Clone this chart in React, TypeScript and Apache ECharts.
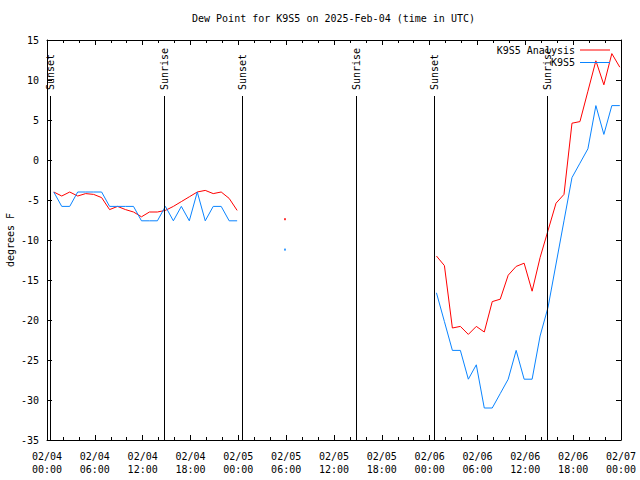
import React, { useEffect, useRef } from 'react';
import * as echarts from 'echarts';

const FONT = 'DejaVu Sans Mono';

const titleText = 'Dew Point for K9S5 on 2025-Feb-04 (time in UTC)';
const yAxisName = 'degrees F';
const analysisName = 'K9S5 Analysis';
const obsName = 'K9S5';

const xTickLabels = [
  '02/04\n00:00', '02/04\n06:00', '02/04\n12:00', '02/04\n18:00',
  '02/05\n00:00', '02/05\n06:00', '02/05\n12:00', '02/05\n18:00',
  '02/06\n00:00', '02/06\n06:00', '02/06\n12:00', '02/06\n18:00',
  '02/07\n00:00',
];

// hours since 02/04 00:00 UTC
const seg1Hours = [
  0.85, 1.85, 2.85, 3.85, 4.85, 5.85, 6.85, 7.85, 8.85, 9.85, 10.85, 11.85,
  12.85, 13.85, 14.85, 15.85, 16.85, 17.85, 18.85, 19.85, 20.85, 21.85, 22.85, 23.85,
];
const seg1Analysis = [
  -4.0, -4.5, -4.0, -4.5, -4.2, -4.3, -4.7, -6.2, -5.8, -6.2, -6.5, -7.1,
  -6.5, -6.5, -6.3, -5.8, -5.2, -4.6, -4.0, -3.8, -4.2, -4.0, -4.8, -6.3,
];
const seg1Obs = [
  -4.0, -5.8, -5.8, -4.0, -4.0, -4.0, -4.0, -5.8, -5.8, -5.8, -5.8, -7.6,
  -7.6, -7.6, -5.8, -7.6, -5.8, -7.6, -4.0, -7.6, -5.8, -5.8, -7.6, -7.6,
];

const isoHours = [29.85];
const isoAnalysis = [-7.4];
const isoObs = [-11.2];

const seg2Hours = [
  48.85, 49.85, 50.85, 51.85, 52.85, 53.85, 54.85, 55.85, 56.85, 57.85, 58.85, 59.85,
  60.85, 61.85, 62.85, 63.85, 64.85, 65.85, 66.85, 67.85, 68.85, 69.85, 70.85, 71.85,
];
const seg2Analysis = [
  -12.0, -13.2, -21.0, -20.8, -21.8, -20.8, -21.5, -17.7, -17.4, -14.4, -13.3, -12.9,
  -16.4, -12.2, -8.8, -5.4, -4.3, 4.6, 4.8, 8.6, 12.4, 9.4, 13.3, 11.6,
];
const seg2Obs = [
  -16.6, -20.2, -23.8, -23.8, -27.4, -25.6, -31.0, -31.0, -29.2, -27.4, -23.8, -27.4,
  -27.4, -22.0, -18.4, -13.0, -7.6, -2.2, -0.4, 1.4, 6.8, 3.2, 6.8, 6.8,
];

const sunEventNames = ['Sunset', 'Sunrise', 'Sunset', 'Sunrise', 'Sunset', 'Sunrise'];
const sunEventHours = [0.45, 14.72, 24.47, 38.85, 48.58, 62.76];

const RED = '#ff0000';
const BLUE = '#0a84ff';

const zip = (xs: number[], ys: number[]) => xs.map((x, i) => [x, ys[i]]);

export default function App() {
  const ref = useRef<HTMLDivElement>(null);

  useEffect(() => {
    if (!ref.current) return;
    const chart = echarts.init(ref.current, undefined, { renderer: 'svg' });

    const yMin = -35;
    const yMax = 15;
    const lineTopValue = 8;

    const xCommon = {
      type: 'value' as const,
      min: 0,
      max: 72,
      interval: 6,
      axisLine: { show: true, onZero: false, lineStyle: { color: '#000', width: 1 } },
      axisTick: { show: true, inside: true, length: 5, lineStyle: { color: '#000' } },
      minorTick: { show: true, splitNumber: 3, length: 3, lineStyle: { color: '#000' } },
      splitLine: { show: false },
      minorSplitLine: { show: false },
    };
    const yCommon = {
      type: 'value' as const,
      min: yMin,
      max: yMax,
      interval: 5,
      axisLine: { show: true, onZero: false, lineStyle: { color: '#000', width: 1 } },
      axisTick: { show: true, inside: true, length: 5, lineStyle: { color: '#000' } },
      splitLine: { show: false },
    };

    const lineSeries = (name: string, color: string, data: number[][], extra: any = {}) => ({
      type: 'line',
      name,
      data,
      xAxisIndex: 0,
      yAxisIndex: 0,
      showSymbol: false,
      symbol: 'none',
      lineStyle: { color, width: 1 },
      itemStyle: { color },
      emphasis: { disabled: true },
      silent: true,
      ...extra,
    });
    const dotSeries = (name: string, color: string, data: number[][]) => ({
      type: 'scatter',
      name,
      data,
      xAxisIndex: 0,
      yAxisIndex: 0,
      symbol: 'rect',
      symbolSize: 2,
      itemStyle: { color },
      emphasis: { disabled: true },
      silent: true,
    });

    chart.setOption({
      animation: false,
      textStyle: { fontFamily: FONT, color: '#000' },
      title: {
        text: titleText,
        left: 187,
        top: 8,
        textStyle: { fontFamily: FONT, fontSize: 10, fontWeight: 'normal', color: '#000' },
      },
      legend: {
        orient: 'vertical',
        right: 25,
        top: 40,
        align: 'right',
        icon: 'rect',
        itemWidth: 30,
        itemHeight: 1,
        itemGap: 2.5,
        itemTextGap: 5,
        selectedMode: false,
        textStyle: { fontFamily: FONT, fontSize: 10, color: '#000' },
        data: [
          { name: analysisName, itemStyle: { color: RED } },
          { name: obsName, itemStyle: { color: BLUE } },
        ],
      },
      grid: { left: 47, right: 19, top: 40, bottom: 40, containLabel: false, outerBoundsMode: 'none' },
      xAxis: [
        {
          ...xCommon,
          position: 'bottom',
          axisLabel: {
            show: true,
            margin: 10,
            fontFamily: FONT,
            fontSize: 10,
            color: '#000',
            lineHeight: 13,
            formatter: (v: number) => xTickLabels[Math.round(v / 6)] ?? '',
          },
        },
        { ...xCommon, position: 'top', axisLabel: { show: false } },
      ],
      yAxis: [
        {
          ...yCommon,
          position: 'left',
          name: yAxisName,
          nameLocation: 'middle',
          nameGap: 32,
          nameMoveOverlap: false,
          nameRotate: 90,
          nameTextStyle: { fontFamily: FONT, fontSize: 10, color: '#000' },
          axisLabel: { show: true, margin: 8, fontFamily: FONT, fontSize: 10, color: '#000' },
        },
        { ...yCommon, position: 'right', axisLabel: { show: false } },
      ],
      series: [
        lineSeries(analysisName, RED, zip(seg1Hours, seg1Analysis), {
          markLine: {
            silent: true,
            symbol: ['none', 'none'],
            label: { show: false },
            lineStyle: { color: '#000', width: 1, type: 'solid' },
            emphasis: { disabled: true },
            data: sunEventHours.map((h) => [
              { coord: [h, yMin] },
              { coord: [h, lineTopValue] },
            ]),
          },
        }),
        lineSeries(analysisName, RED, zip(seg2Hours, seg2Analysis)),
        dotSeries(analysisName, RED, zip(isoHours, isoAnalysis)),
        lineSeries(obsName, BLUE, zip(seg1Hours, seg1Obs)),
        lineSeries(obsName, BLUE, zip(seg2Hours, seg2Obs)),
        dotSeries(obsName, BLUE, zip(isoHours, isoObs)),
      ],
    });

    const py = chart.convertToPixel({ yAxisIndex: 0 }, lineTopValue) as number;
    const texts = sunEventHours.map((h, i) => {
      const px = chart.convertToPixel({ xAxisIndex: 0 }, h) as number;
      return {
        type: 'text',
        x: px,
        y: py - 6,
        rotation: Math.PI / 2,
        silent: true,
        style: {
          text: sunEventNames[i],
          fontFamily: FONT,
          fontSize: 10,
          fill: '#000',
          align: 'left',
          verticalAlign: 'middle',
        },
      };
    });
    chart.setOption({ graphic: texts });

    return () => chart.dispose();
  }, []);

  return <div ref={ref} style={{ width: 640, height: 480, position: 'absolute', left: 0, top: 0 }} />;
}
